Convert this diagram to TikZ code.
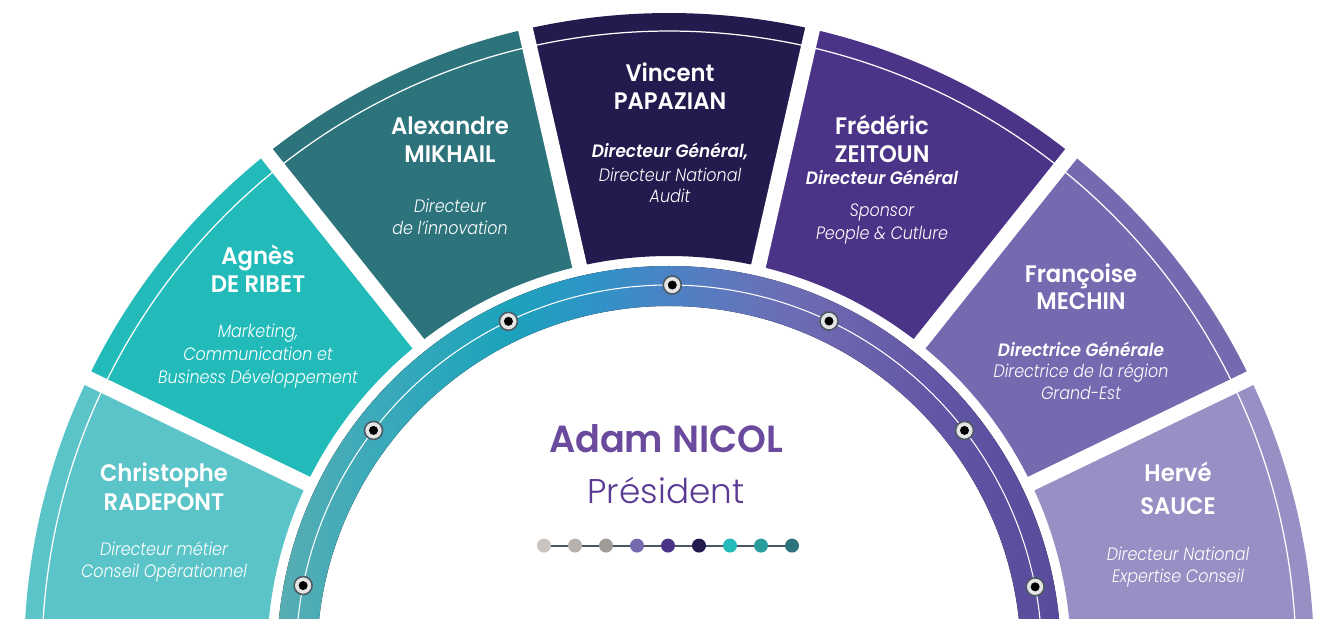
\documentclass[tikz,border=0pt]{standalone}
\usepackage{fontspec}
\setmainfont{Poppins}
\IfFontExistsTF{Poppins SemiBold}{\newfontfamily\namefont{Poppins SemiBold}[FakeStretch=0.95]\newfontfamily\titlefont{Poppins SemiBold}[FakeStretch=0.97]}{\def\namefont{\bfseries}\def\titlefont{\bfseries}}
\IfFontExistsTF{Poppins Light Italic}{\newfontfamily\rolefont{Poppins Light Italic}[FakeStretch=0.89]}{\def\rolefont{\itshape}}
\IfFontExistsTF{Poppins Light}{\newfontfamily\lightfont{Poppins Light}}{\def\lightfont{}}
\IfFontExistsTF{Poppins SemiBold Italic}{\newfontfamily\boldit{Poppins SemiBold Italic}[FakeStretch=0.945]}{\def\boldit{\bfseries\itshape}}
\definecolor{cA}{HTML}{5BC4C8}
\definecolor{cB}{HTML}{22BBBA}
\definecolor{cC}{HTML}{2C737C}
\definecolor{cD}{HTML}{231A4D}
\definecolor{cE}{HTML}{4B3388}
\definecolor{cF}{HTML}{7569B0}
\definecolor{cG}{HTML}{9A8FC4}
\definecolor{pA}{HTML}{C9C4BF}
\definecolor{pB}{HTML}{B6B1AC}
\definecolor{pC}{HTML}{9F9B97}
\definecolor{pH}{HTML}{2A9C9D}
\definecolor{rowline}{HTML}{4A5566}
\definecolor{titlec}{HTML}{6A4A9C}
\definecolor{subc}{HTML}{5B3A93}
\definecolor{dotrim}{HTML}{4D5A63}
\definecolor{r1}{HTML}{58ADB3}
\definecolor{r2}{HTML}{3CAAB9}
\definecolor{r3}{HTML}{1CA2BC}
\definecolor{r4}{HTML}{3192C8}
\definecolor{r5}{HTML}{4C82C5}
\definecolor{r6}{HTML}{6772B9}
\definecolor{r7}{HTML}{6E66B0}
\definecolor{r8}{HTML}{5F53A3}
\definecolor{r9}{HTML}{5A4A9C}
\pgfdeclarehorizontalshading{ringshade}{100bp}{color(0bp)=(r1); color(25bp)=(r1); color(30.9bp)=(r2); color(39.9bp)=(r3); color(45.6bp)=(r4); color(50.1bp)=(r5); color(55.8bp)=(r6); color(60.3bp)=(r7); color(68.6bp)=(r8); color(75bp)=(r9); color(100bp)=(r9)}
\tikzset{
  nm/.style={anchor=base, inner sep=0pt, text=white, font=\namefont\fontsize{13.6}{16}\selectfont},
  rl/.style={anchor=base, inner sep=0pt, text=white, font=\rolefont\fontsize{10.2}{12}\selectfont},
  rb/.style={anchor=base, inner sep=0pt, text=white, font=\boldit\fontsize{10.2}{12}\selectfont},
  ringdot/.style={circle, fill=black!10, draw=dotrim, line width=0.9pt, minimum size=0.36cm, inner sep=0pt,
    path picture={\fill[black] (path picture bounding box.center) circle (0.09cm);}},
  rowdot/.style={circle, minimum size=0.28cm, inner sep=0pt},
  rowlink/.style={rowline, line width=1.1pt}
}
\begin{document}
\begin{tikzpicture}[x=0.02cm,y=0.02cm]
\useasboundingbox (0,0) rectangle (1326,619);
\clip (0,0) rectangle (1326,619);
\begin{scope}[shift={(669,-39)}]
  % sectors
  \foreach \i/\c in {0/cA,1/cB,2/cC,3/cD,4/cE,5/cF,6/cG} {
    \pgfmathsetmacro\a{180-25.7143*\i}
    \pgfmathsetmacro\b{180-25.7143*(\i+1)}
    \fill[\c] (\a:402) arc[start angle=\a,end angle=\b,radius=402] -- (\b:645) arc[start angle=\b,end angle=\a,radius=645] -- cycle;
    \draw[white, line width=0.7pt] (\a:627) arc[start angle=\a,end angle=\b,radius=627];
  }
  % separators
  \foreach \k in {1,...,6} {
    \pgfmathsetmacro\a{180-25.7143*\k}
    \draw[white, line width=8.5pt] (\a:390) -- (\a:660);
  }
  % ring
  \fill[shading=ringshade] (0:352) arc[start angle=0,end angle=180,radius=352] -- (180:392) arc[start angle=180,end angle=0,radius=392] -- cycle;
  \draw[white, line width=0.6pt] (0:373) arc[start angle=0,end angle=180,radius=373];
  \foreach \a [count=\n] in {168.8,142.4,115.5,89.5,64.6,37.6,11} {
    \node[ringdot] (d\n) at (\a:373) {};
  }
\end{scope}

% Christophe
\node[nm] (n1a) at (164,137) {Christophe};
\node[nm] (n1b) at (164,108) {RADEPONT};
\node[rl] (t1a) at (164,63) {Directeur métier};
\node[rl] (t1b) at (164,41) {Conseil Opérationnel};
% Agnes
\node[nm] (n2a) at (258,354) {Agnès};
\node[nm] (n2b) at (258,326) {DE RIBET};
\node[rl] (t2a) at (258,281) {Marketing,};
\node[rl] (t2b) at (258,258) {Communication et};
\node[rl] (t2c) at (258,235) {Business Développement};
% Alexandre
\node[nm] (n3a) at (450,484) {Alexandre};
\node[nm] (n3b) at (450,456) {MIKHAIL};
\node[rl] (t3a) at (450,406) {Directeur};
\node[rl] (t3b) at (450,384) {de l’innovation};
% Vincent
\node[nm] (n4a) at (670,537) {Vincent};
\node[nm] (n4b) at (670,509) {PAPAZIAN};
\node[rb] (t4a) at (670,461) {Directeur Général,};
\node[rl] (t4b) at (670,437) {Directeur National};
\node[rl] (t4c) at (670,416) {Audit};
% Frederic
\node[nm] (n5a) at (882,484) {Frédéric};
\node[nm] (n5b) at (882,456) {ZEITOUN};
\node[rb] (t5a) at (882,434) {Directeur Général};
\node[rl] (t5b) at (882,402) {Sponsor};
\node[rl] (t5c) at (882,379) {People \& Cutlure};
% Francoise
\node[nm] (n6a) at (1081,336) {Françoise};
\node[nm] (n6b) at (1081,309) {MECHIN};
\node[rb] (t6a) at (1081,262) {Directrice Générale};
\node[rl] (t6b) at (1081,241) {Directrice de la région};
\node[rl] (t6c) at (1081,219) {Grand-Est};
% Herve
\node[nm] (n7a) at (1178,137) {Hervé};
\node[nm] (n7b) at (1178,104) {SAUCE};
\node[rl] (t7a) at (1178,58) {Directeur National};
\node[rl] (t7b) at (1178,36) {Expertise Conseil};

% centre
\node[anchor=base, inner sep=0pt, text=titlec, font=\titlefont\fontsize{21.5}{24}\selectfont] (pres) at (666,166) {Adam NICOL};
\node[anchor=base, inner sep=0pt, text=subc, font=\lightfont\fontsize{19.5}{22}\selectfont] (prest) at (666,115) {Président};

% dots row
\foreach \c [count=\n] in {pA,pB,pC,cF,cE,cD,cB,pH,cC} {
  \node[rowdot, fill=\c] (p\n) at ({544+31*(\n-1)},73.4) {};
}
\foreach \n [remember=\n as \m (initially 1)] in {2,...,9} {
  \draw[rowlink] (p\m) -- (p\n);
}
\end{tikzpicture}
\end{document}
